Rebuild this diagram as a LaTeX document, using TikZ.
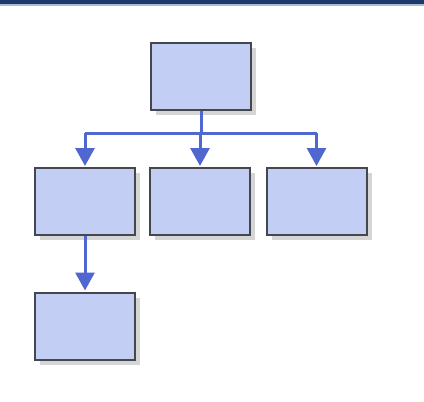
\documentclass[tikz,border=0pt]{standalone}
\usetikzlibrary{arrows.meta,shadows}
\definecolor{boxfill}{HTML}{C2CEF3}
\definecolor{boxline}{HTML}{45474F}
\definecolor{linkblue}{HTML}{4F67CF}
\definecolor{navy}{HTML}{1B3A6B}
\definecolor{barstrip}{HTML}{A9B9D9}
\tikzset{
  orgbox/.style={draw=boxline, line width=2pt, fill=boxfill,
    minimum width=100pt, minimum height=67pt, inner sep=0pt,
    drop shadow={shadow xshift=5pt, shadow yshift=-5pt, fill=gray!50, opacity=0.65}},
  link/.style={draw=linkblue, line width=3pt},
  linkarrow/.style={link, -{Triangle[width=19pt,length=18pt]}, shorten >=1pt}
}
\begin{document}
\begin{tikzpicture}[x=1pt,y=-1pt]
  \useasboundingbox (0,0) rectangle (424,402);
  % header band
  \fill[navy] (0,0) rectangle (424,4);
  \fill[barstrip] (0,4) rectangle (424,5.5);
  % boxes
  \node[orgbox] (top) at (201,76.5) {};
  \node[orgbox] (b1) at (85,201.5) {};
  \node[orgbox] (b2) at (200,201.5) {};
  \node[orgbox] (b3) at (316.5,201.5) {};
  \node[orgbox] (b4) at (85,326) {};
  % branch line
  \coordinate (j) at (200,133);
  \draw[link] (top.south) -- (top.south |- j);
  \draw[link] (b1.north |- j) -- (b3.north |- j);
  \draw[linkarrow] (b1.north |- j) -- (b1.north);
  \draw[linkarrow] (b2.north |- j) -- (b2.north);
  \draw[linkarrow] (b3.north |- j) -- (b3.north);
  \draw[linkarrow] (b1.south) -- (b4.north);
\end{tikzpicture}
\end{document}
